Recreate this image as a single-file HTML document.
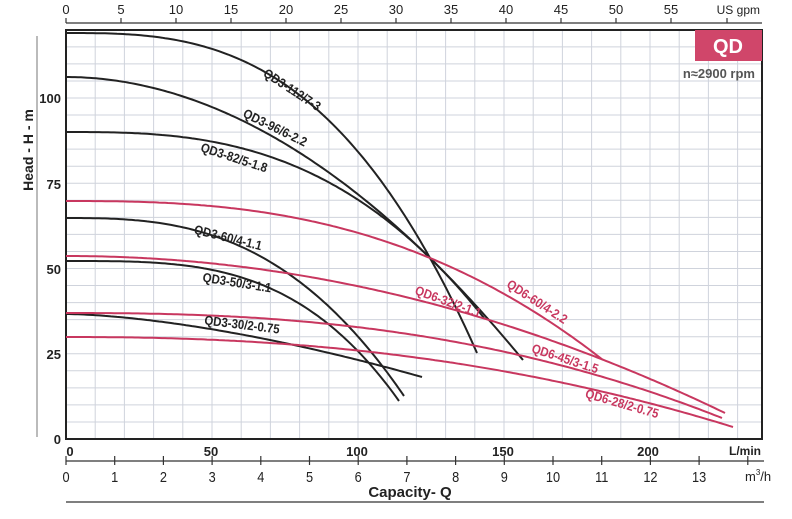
<!DOCTYPE html>
<html><head><meta charset="utf-8"><style>
body{margin:0;background:#fff;width:792px;height:519px;overflow:hidden}
svg{display:block;font-family:"Liberation Sans",sans-serif}
</style></head><body>
<svg id="s" width="792" height="519" viewBox="0 0 792 519">
<g id="grid" stroke="#cfd3dc" stroke-width="1"></g>
<rect x="66" y="30" width="696" height="409" fill="none" stroke="#222" stroke-width="2"/>
<rect x="695" y="30" width="67" height="31" fill="#d0466a"/>
<text x="728" y="53" fill="#fff" font-size="20" font-weight="bold" text-anchor="middle">QD</text>
<text x="755" y="78" fill="#555" font-size="13" font-weight="bold" text-anchor="end">n≈2900 rpm</text>
<g id="curves" fill="none" stroke-width="2"></g>
<g id="ax" stroke="#333" stroke-width="1.2"></g>
<g font-size="13" font-weight="bold" fill="#222" text-anchor="end">
<text x="61" y="103">100</text><text x="61" y="189">75</text><text x="61" y="274">50</text><text x="61" y="359">25</text><text x="61" y="444">0</text>
</g>
<text transform="translate(33,150) rotate(-90)" font-size="14" font-weight="bold" fill="#222" text-anchor="middle">Head - H - m</text>
<line x1="37" y1="36" x2="37" y2="437" stroke="#777" stroke-width="1"/>
<g font-size="13" font-weight="bold" fill="#222" text-anchor="middle">
<text x="70" y="456">0</text><text x="211" y="456">50</text><text x="357" y="456">100</text><text x="503" y="456">150</text><text x="648" y="456">200</text>
<text x="745" y="455" font-size="12">L/min</text>
</g>
<text x="410" y="497" font-size="15" font-weight="bold" fill="#222" text-anchor="middle">Capacity- Q</text>
<g id="lbl" font-size="13" font-weight="bold"></g>
</svg>
<script>
var NS="http://www.w3.org/2000/svg",s=document.getElementById('s');
function el(p,t,a,txt){var e=document.createElementNS(NS,t);for(var k in a)e.setAttribute(k,a[k]);if(txt!=null)e.textContent=txt;p.appendChild(e);return e;}
var g=document.getElementById('grid');
for(var x=66+29.2;x<762;x+=29.2)el(g,'line',{x1:x,y1:31,x2:x,y2:438});
for(var y=439-17.05;y>31;y-=17.05)el(g,'line',{x1:67,y1:y,x2:761,y2:y});
var ax=document.getElementById('ax');
el(ax,'line',{x1:66,y1:23,x2:762,y2:23});
for(var i=0;i<=11;i++){var xx=66+i*55.0;el(ax,'line',{x1:xx,y1:18,x2:xx,y2:23});el(s,'text',{x:xx,y:14,'font-size':13,fill:'#222','text-anchor':'middle'},String(i*5));}
el(ax,'line',{x1:727,y1:18,x2:727,y2:23});
el(s,'text',{x:760,y:14,'font-size':12,fill:'#222','text-anchor':'end'},'US gpm');
el(ax,'line',{x1:66,y1:461,x2:764,y2:461});
for(var i=0;i<=14;i++){var xx=66+i*48.7;el(ax,'line',{x1:xx,y1:456,x2:xx,y2:465});if(i<14)el(s,'text',{transform:'translate('+xx+',482) scale(0.85,1)','font-size':15,fill:'#222','text-anchor':'middle'},String(i));}
var m=el(s,'text',{x:745,y:481,'font-size':13,fill:'#222'},'m');
el(m,'tspan',{dy:-6,'font-size':8},'3');el(m,'tspan',{dy:6},'/h');
el(ax,'line',{x1:66,y1:502,x2:764,y2:502});
var C=document.getElementById('curves');
function curve(p0,pm,pe,col){
 var dm=pm[1]-p0[1],de=pe[1]-p0[1],xm=pm[0]-p0[0],xe=pe[0]-p0[0];
 var b=Math.log(de/dm)/Math.log(xe/xm),a=de/Math.pow(xe,b),d='';
 for(var x=0;x<=xe;x+=3){d+=(x?'L':'M')+(p0[0]+x).toFixed(1)+','+(p0[1]+a*Math.pow(x,b)).toFixed(1);}
 d+='L'+pe[0]+','+pe[1];
 el(C,'path',{d:d,stroke:col});
}
var K='#222',P='#c8375f';
curve([66,33],[430,258],[477,353],K);
curve([66,77],[430,258],[523,360],K);
curve([66,132],[430,258],[484,318],K);
curve([66,218],[283,270],[404,396],K);
curve([66,261],[327,323],[399,401],K);
curve([66,314],[260,338],[422,377],K);
curve([66,201],[430,258],[603,360],P);
curve([66,256],[380,291],[725,413],P);
curve([66,313],[380,330],[722,418],P);
curve([66,337],[380,353],[733,427],P);
var L=document.getElementById('lbl');
[['QD3-112/7-3',292,90,33,K],['QD3-96/6-2.2',275,128,26,K],['QD3-82/5-1.8',234,158,18,K],['QD3-60/4-1.1',228,238,14,K],['QD3-50/3-1.1',237,283,9,K],['QD3-30/2-0.75',242,325,7,K],
 ['QD6-60/4-2.2',537,302,33,P],['QD6-32/2-1.1',448,302,20,P],['QD6-45/3-1.5',565,359,18,P],['QD6-28/2-0.75',622,404,16,P]].forEach(function(t){
 el(L,'text',{transform:'translate('+t[1]+','+t[2]+') rotate('+t[3]+') scale(0.88,1)',fill:t[4],'text-anchor':'middle',y:4},t[0]);});
</script>
</body></html>
